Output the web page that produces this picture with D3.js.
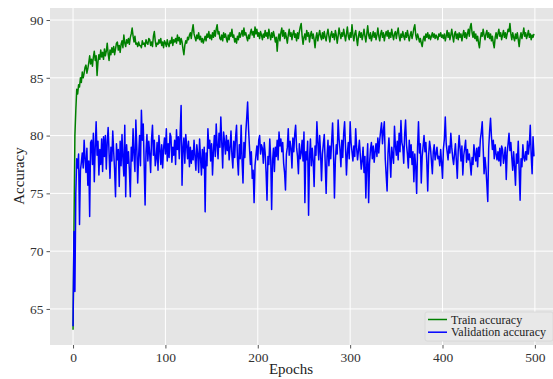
<!DOCTYPE html>
<html><head><meta charset="utf-8">
<script src="https://cdn.jsdelivr.net/npm/d3@7"></script>
<style>
html,body{margin:0;padding:0;background:#fff;}
svg text{font-family:"Liberation Serif","DejaVu Serif",serif;}
</style></head>
<body><svg id="c" width="553" height="379"></svg>
<script>
const trainAcc = [
63.2,72.0,80.0,82.2,84.0,83.6,84.4,84.2,85.0,84.6,
85.5,85.0,85.4,85.9,86.1,85.4,85.8,86.3,86.9,86.2,
86.6,86.0,86.8,87.3,86.5,86.9,85.2,86.4,87.0,86.6,
87.4,86.8,87.2,86.6,87.5,86.9,87.3,88.0,87.1,86.5,
87.4,87.0,87.6,87.2,87.7,87.0,87.5,88.0,88.1,87.4,
87.8,87.2,87.9,88.2,87.6,88.7,88.0,87.7,88.3,88.0,
88.4,87.9,88.5,88.8,89.3,88.6,88.1,88.6,87.9,88.0,
87.7,88.1,87.8,87.8,87.6,88.2,87.9,88.0,87.7,88.3,
88.0,87.9,88.4,88.3,87.8,88.1,87.7,88.6,89.0,88.2,
87.7,88.0,87.9,88.3,88.0,88.4,87.8,88.1,87.6,88.2,
88.0,87.7,88.3,87.9,87.7,88.2,88.0,88.5,87.8,88.3,
88.1,88.4,88.0,88.7,88.2,88.5,87.9,88.4,88.1,87.5,
87.0,87.8,88.2,88.0,88.5,88.3,88.7,88.9,88.4,89.1,
89.6,88.8,88.5,88.2,88.7,88.4,88.9,88.3,88.6,88.1,
88.4,88.0,88.3,88.6,88.2,88.8,88.5,89.0,88.4,88.7,
88.3,88.9,88.5,89.1,88.6,89.2,89.6,88.8,89.0,88.4,
88.3,88.7,88.2,88.9,88.5,88.8,88.4,88.1,88.7,88.3,
88.9,88.6,89.2,88.5,88.7,88.1,88.4,88.0,88.6,88.3,
88.9,88.5,88.8,89.1,88.6,89.3,88.7,88.9,88.5,88.2,
88.7,88.4,88.9,89.2,88.7,89.0,88.5,89.4,88.8,89.2,
88.6,88.9,88.4,89.0,88.7,88.3,88.8,88.5,89.1,88.6,
88.9,88.4,89.2,88.7,88.3,88.9,88.5,89.0,88.6,88.1,
88.5,87.3,88.4,88.8,88.2,88.9,89.3,88.6,89.1,88.4,
88.9,88.5,88.0,88.7,89.2,88.6,88.9,88.3,88.8,89.1,
88.5,88.8,88.2,88.9,88.4,89.0,89.4,89.7,88.6,87.9,
88.5,88.8,88.3,89.1,88.6,88.9,88.1,88.7,89.0,88.4,
88.8,88.3,87.6,88.5,88.9,88.2,88.7,89.1,88.6,88.3,
88.9,88.4,89.0,88.5,88.2,88.8,89.2,88.6,88.1,88.7,
89.0,88.5,88.8,88.3,89.1,88.7,88.0,88.6,89.3,88.8,
88.4,88.9,88.6,89.2,88.7,88.2,88.8,89.4,88.6,88.3,
88.9,88.5,89.6,88.7,88.2,88.8,89.1,88.4,87.8,88.6,
89.0,88.5,88.9,88.3,88.7,89.2,88.6,88.1,88.8,89.5,
88.7,88.4,88.9,88.2,88.6,89.0,88.5,88.9,88.3,88.7,
89.3,88.6,88.2,88.8,89.1,88.5,88.9,88.2,88.7,89.0,
88.6,89.1,88.4,88.9,88.5,89.2,88.7,88.3,88.8,89.0,
88.4,88.9,89.3,88.6,88.2,88.8,88.5,89.0,88.6,88.3,
88.9,88.5,89.1,88.6,88.2,88.7,89.0,88.4,88.8,89.3,
89.6,88.7,88.3,88.8,88.5,88.1,88.4,88.0,87.7,88.3,
88.6,88.2,88.8,88.5,88.9,88.4,88.7,88.3,88.6,88.9,
88.5,88.8,88.4,88.7,88.5,88.3,88.8,88.6,88.9,88.5,
88.7,88.4,88.8,88.2,88.6,89.1,88.5,88.9,88.3,88.7,
89.2,88.6,88.1,88.8,89.0,88.4,88.8,88.3,88.9,88.5,
88.8,88.2,88.7,89.1,88.5,88.9,88.4,88.8,89.2,88.6,
89.4,89.7,88.9,88.5,89.0,88.4,88.8,88.2,88.6,88.0,
87.6,88.4,88.9,88.6,89.2,88.7,88.3,88.8,89.1,88.5,
88.9,88.4,88.8,88.2,88.6,88.0,87.6,88.5,88.9,88.4,
88.8,89.2,88.6,88.9,88.3,88.7,89.1,88.5,88.9,88.4,
88.8,89.2,89.0,89.7,88.8,88.3,88.9,88.5,88.2,88.8,
88.4,88.9,88.3,87.7,88.5,88.9,88.4,88.8,89.3,88.6,
88.9,88.4,88.7,89.1,88.5,88.8,88.3,88.7,88.5,88.8
];
const valAcc = [
63.5,71.7,66.5,75.0,78.0,77.2,78.4,72.3,77.0,77.7,
78.5,77.2,79.6,78.0,76.8,78.9,75.7,77.8,73.0,79.4,
79.6,77.5,80.2,76.0,79.0,81.2,78.3,79.5,76.6,78.8,
77.5,79.7,76.9,79.9,78.2,80.0,77.1,79.4,80.7,78.5,
76.3,79.0,77.8,80.4,78.6,77.0,74.7,79.3,77.9,78.8,
75.6,79.5,77.4,80.1,78.0,76.5,80.9,74.7,79.2,77.6,
78.6,77.0,74.7,79.0,77.8,80.6,78.3,76.9,81.35,79.0,
75.9,78.2,80.0,77.4,82.2,79.6,81.0,77.5,74.0,78.6,
80.1,77.8,79.5,78.4,76.8,79.7,80.9,78.3,79.6,77.4,
78.0,79.4,77.0,80.0,78.8,77.5,79.2,77.2,78.9,79.8,
78.4,80.6,77.8,79.3,78.1,80.2,79.9,77.7,79.0,78.3,
79.6,77.5,80.5,78.8,79.9,78.0,80.3,82.6,75.7,78.9,
79.8,77.6,80.1,79.2,78.0,79.5,77.3,79.0,77.6,78.7,
77.9,79.6,78.2,77.0,79.2,78.4,76.8,79.7,78.1,76.6,
78.8,77.2,79.0,73.4,78.5,77.4,80.6,78.9,79.6,77.8,
79.3,76.6,78.7,80.0,78.2,81.0,79.1,78.0,80.2,79.0,
81.6,79.4,77.2,80.3,79.5,78.4,80.0,78.7,79.6,77.9,
79.0,80.4,78.3,77.2,79.5,78.1,79.9,80.9,78.0,76.6,
79.2,78.0,80.9,77.8,75.9,79.4,78.1,80.2,81.5,82.9,
80.6,79.0,77.5,78.6,76.3,77.0,74.2,77.4,78.3,79.1,
77.9,79.6,80.0,78.4,79.2,78.9,77.6,79.4,78.5,76.8,
74.4,78.2,77.5,79.7,78.1,73.6,77.8,78.9,76.9,79.0,
78.2,79.6,77.9,80.3,79.1,79.7,78.6,79.4,77.6,76.8,
75.3,78.4,79.0,80.6,78.3,79.5,78.9,77.2,79.8,78.6,
80.1,80.9,79.0,78.2,76.7,79.3,78.0,78.5,79.6,77.8,
80.3,74.2,78.6,77.9,79.5,73.1,78.0,79.7,77.4,78.9,
77.8,75.6,79.1,78.3,81.2,79.4,77.9,80.0,78.5,76.1,
78.4,79.3,80.1,77.6,75.0,78.2,79.6,77.4,79.1,78.0,
79.5,81.1,78.6,74.6,77.8,79.2,78.4,81.35,79.7,78.8,
77.3,79.6,78.1,80.2,81.2,79.0,76.6,78.5,79.4,78.0,
81.2,79.4,78.6,77.8,79.1,78.2,80.6,79.0,77.9,78.7,
79.6,78.3,77.1,77.8,79.0,76.8,78.2,74.6,77.5,79.3,
74.2,77.6,78.8,79.4,78.0,79.1,77.7,78.6,79.3,78.2,
79.8,78.5,79.6,80.4,81.1,79.3,80.4,81.2,78.0,76.6,
75.2,78.5,79.8,78.1,76.4,79.0,78.3,77.6,80.8,79.1,
78.3,79.5,77.9,80.2,78.6,81.3,79.4,79.0,77.6,80.1,
81.35,79.2,78.4,77.2,79.6,78.1,79.2,77.5,78.6,76.0,
78.4,77.3,75.0,79.0,81.2,78.5,79.3,75.9,78.2,79.1,
80.0,78.6,79.4,77.7,75.2,78.3,79.5,78.9,77.8,76.7,
78.6,79.2,77.9,78.4,79.0,78.0,78.2,77.4,78.8,77.6,
76.3,78.9,79.7,81.6,79.3,78.6,77.9,79.1,78.5,80.2,
79.0,78.1,77.5,78.4,79.3,77.8,76.3,78.7,80.0,78.9,
77.8,79.1,76.6,78.3,78.9,79.6,77.7,78.8,77.9,78.4,
77.6,76.6,78.1,77.5,79.2,78.4,77.8,78.9,77.3,79.0,
78.2,79.7,80.3,81.2,79.0,76.7,78.1,77.2,75.8,74.3,
78.9,80.4,81.5,79.9,78.8,79.6,78.0,79.2,78.4,77.9,
78.6,77.8,78.9,77.4,79.1,78.8,77.6,78.2,79.0,76.2,
78.5,79.3,80.2,78.7,79.4,78.1,77.0,78.6,77.3,75.7,
78.4,77.6,79.5,77.0,74.4,78.0,77.3,79.2,78.1,77.8,
78.6,77.9,79.5,78.4,79.2,80.9,78.3,76.7,79.9,78.2
];
const xTicks = [0,100,200,300,400,500];
const yTicks = [65,70,75,80,85,90];
const seriesNames = ["Train accuracy","Validation accuracy"];
const seriesColors = ["#008000","#0000ff"];

const svg = d3.select("#c");
const L = 50, R = 557, T = 8, B = 345;
const x = d3.scaleLinear().domain([-24.95, 523.95]).range([L, R]);
const y = d3.scaleLinear().domain([61.88, 91.04]).range([B, T]);

svg.append("rect").attr("x", L).attr("y", T).attr("width", R - L).attr("height", B - T).attr("fill", "#e5e5e5");

// grid
svg.append("g").selectAll("line").data(xTicks).join("line")
  .attr("x1", d => x(d)).attr("x2", d => x(d)).attr("y1", T).attr("y2", B)
  .attr("stroke", "#fff").attr("stroke-width", 1);
svg.append("g").selectAll("line").data(yTicks).join("line")
  .attr("y1", d => y(d)).attr("y2", d => y(d)).attr("x1", L).attr("x2", R)
  .attr("stroke", "#fff").attr("stroke-width", 1);

// axes
const xAxis = d3.axisBottom(x).tickValues(xTicks).tickSize(3.5).tickPadding(4).tickFormat(d3.format("d"));
const gx = svg.append("g").attr("transform", `translate(0,${B})`).call(xAxis);
gx.select(".domain").remove();
gx.selectAll(".tick line").attr("stroke", "#555");
gx.selectAll(".tick text").attr("fill", "#333").style("font-size", "13.5px");

const yAxis = d3.axisLeft(y).tickValues(yTicks).tickSize(3.5).tickPadding(3).tickFormat(d3.format("d"));
const gy = svg.append("g").attr("transform", `translate(${L},0)`).call(yAxis);
gy.select(".domain").remove();
gy.selectAll(".tick line").attr("stroke", "#555");
gy.selectAll(".tick text").attr("fill", "#333").style("font-size", "13.5px");

// lines
const clip = svg.append("clipPath").attr("id", "pc").append("rect")
  .attr("x", L).attr("y", T).attr("width", R - L).attr("height", B - T);
const line = d3.line().x((d, i) => x(i)).y(d => y(d));
[trainAcc, valAcc].forEach((s, k) => {
  svg.append("path").datum(s).attr("d", line).attr("fill", "none")
    .attr("stroke", seriesColors[k]).attr("stroke-width", 1.5)
    .attr("stroke-linejoin", "round").attr("clip-path", "url(#pc)");
});

// labels
svg.append("text").attr("x", 291).attr("y", 374).attr("text-anchor", "middle")
  .attr("fill", "#222").style("font-size", "15px").text("Epochs");
svg.append("text").attr("transform", "translate(24,176) rotate(-90)").attr("text-anchor", "middle")
  .attr("fill", "#222").style("font-size", "15px").text("Accuracy");

// legend
const lg = svg.append("g");
lg.append("rect").attr("x", 425).attr("y", 312).attr("width", 128).attr("height", 29)
  .attr("rx", 2).attr("fill", "#e8e8e8").attr("stroke", "#d6d6d6").attr("stroke-width", 0.8);
seriesNames.forEach((n, i) => {
  const yy = 319.5 + i * 12.7;
  lg.append("line").attr("x1", 428).attr("x2", 447).attr("y1", yy).attr("y2", yy)
    .attr("stroke", seriesColors[i]).attr("stroke-width", 1.5);
  lg.append("text").attr("x", 451).attr("y", yy + 4).attr("fill", "#222")
    .style("font-size", "12px").text(n);
});
</script></body></html>
